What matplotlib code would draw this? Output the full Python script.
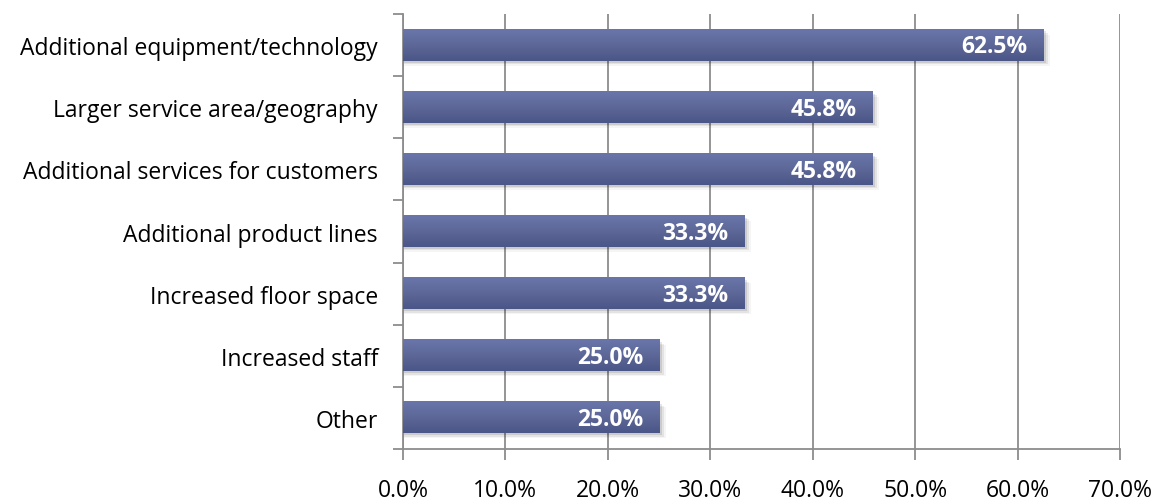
import numpy as np
import matplotlib
matplotlib.use("Agg")
import matplotlib.pyplot as plt
from matplotlib.colors import LinearSegmentedColormap
from matplotlib.ticker import MultipleLocator, FuncFormatter

categories = [
    "Additional equipment/technology",
    "Larger service area/geography",
    "Additional services for customers",
    "Additional product lines",
    "Increased floor space",
    "Increased staff",
    "Other",
]
values = [62.5, 45.8, 45.8, 33.3, 33.3, 25.0, 25.0]

plt.rcParams["font.family"] = ["Open Sans", "DejaVu Sans"]

fig = plt.figure(figsize=(11.56, 5.02), dpi=100)
ax = fig.add_axes([0.3486, 0.1036, 0.6203, 0.8664])

n = len(categories)
ypos = np.arange(n)[::-1]
bar_h = 0.5

ax.set_xlim(0, 70)
ax.set_ylim(-0.5, n - 0.5)

# vertical gridlines
ax.xaxis.set_major_locator(MultipleLocator(10))
ax.grid(axis="x", color="#8c8c8c", linewidth=1.3, zorder=0)
ax.set_axisbelow(True)

grad = LinearSegmentedColormap.from_list("bar", ["#4b5688", "#5d6898", "#6a76aa"])
gimg = np.linspace(0, 1, 64).reshape(-1, 1)

for y, v in zip(ypos, values):
    # soft drop shadow
    for k, a in enumerate([0.10, 0.07, 0.04]):
        off = 0.03 + 0.025 * k
        ax.fill_between([0.0, v + 0.25 + 0.2 * k], y - bar_h / 2 - off, y + bar_h / 2 - off,
                        color="#000000", alpha=a, linewidth=0, zorder=2)
    ax.imshow(gimg, cmap=grad, aspect="auto", interpolation="bilinear",
              extent=(0, v, y - bar_h / 2, y + bar_h / 2), origin="lower", zorder=3)
    ax.text(v - 1.5, y - 0.02, f"{v:.1f}%", color="white", fontweight="bold",
            fontsize=16.5, ha="right", va="center", zorder=4)

ax.set_xlim(0, 70)
ax.set_ylim(-0.5, n - 0.5)

ax.set_yticks(ypos)
ax.set_yticklabels(categories, fontsize=16.5, color="#000000")
ax.set_yticks(np.arange(-0.5, n, 1.0), minor=True)
ax.tick_params(axis="y", which="major", length=0, pad=18)
ax.tick_params(axis="y", which="minor", length=7, width=1.3, color="#8c8c8c", direction="out")
ax.xaxis.set_major_formatter(FuncFormatter(lambda x, p: f"{x:.1f}%"))
ax.tick_params(axis="x", length=8, width=1.3, color="#8c8c8c", labelsize=16.5, pad=13,
               labelcolor="#000000")

for s in ["top", "right"]:
    ax.spines[s].set_visible(False)
for s in ["left", "bottom"]:
    ax.spines[s].set_color("#8c8c8c")
    ax.spines[s].set_linewidth(1.3)

fig.savefig("out.png", dpi=100, facecolor="white")
